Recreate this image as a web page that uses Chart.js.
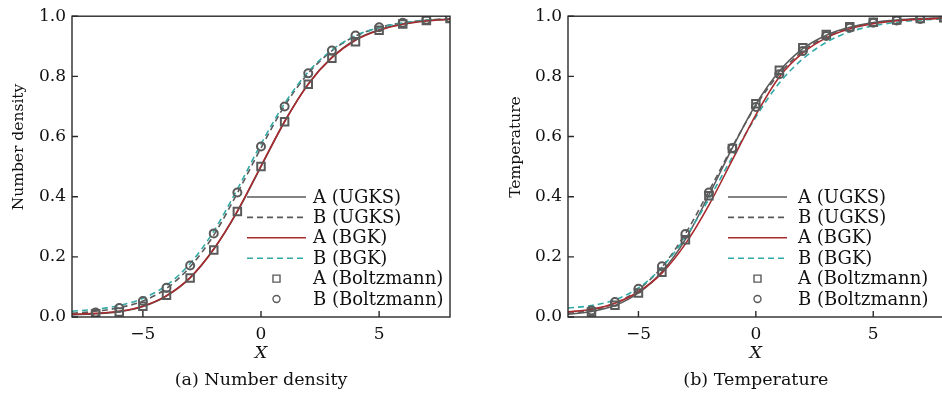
<!DOCTYPE html>
<html>
<head>
<meta charset="utf-8">
<script src="https://cdn.jsdelivr.net/npm/chart.js@4.4.1/dist/chart.umd.min.js"></script>
<style>
  html, body { margin: 0; padding: 0; background: #fff; overflow: hidden; }
  body { width: 942px; height: 395px; position: relative; }
  .panel { position: absolute; top: 0; height: 395px; }
</style>
</head>
<body>
<div class="panel" style="left:0;width:471px"><canvas id="densityChart" width="471" height="395"></canvas></div>
<div class="panel" style="left:471px;width:480px"><canvas id="tempChart" width="480" height="395"></canvas></div>
<script>
// x positions of the curve samples and of the Boltzmann markers
var xLine = [-8, -7, -6, -5, -4, -3, -2, -1, 0, 1, 2, 3, 4, 5, 6, 7, 8];
var xMark = [-7, -6, -5, -4, -3, -2, -1, 0, 1, 2, 3, 4, 5, 6, 7, 8];

var xTicks = [-5, 0, 5];
var yTicks = [0, 0.2, 0.4, 0.6, 0.8, 1.0];

// (a) number density
var densAUgks = [0.007, 0.011, 0.018, 0.035, 0.07, 0.13, 0.225, 0.35, 0.5, 0.65, 0.775, 0.863, 0.922, 0.955, 0.975, 0.985, 0.99];
var densBUgks = [0.012, 0.019, 0.031, 0.053, 0.095, 0.167, 0.272, 0.412, 0.562, 0.702, 0.81, 0.885, 0.934, 0.962, 0.978, 0.987, 0.992];
var densABgk  = [0.009, 0.012, 0.019, 0.036, 0.071, 0.131, 0.226, 0.352, 0.502, 0.65, 0.774, 0.862, 0.92, 0.953, 0.973, 0.984, 0.99];
var densBBgk  = [0.019, 0.026, 0.038, 0.062, 0.105, 0.178, 0.285, 0.425, 0.575, 0.71, 0.815, 0.888, 0.935, 0.962, 0.977, 0.986, 0.99];
var densABoltz = [0.011, 0.017, 0.036, 0.072, 0.13, 0.223, 0.351, 0.5, 0.649, 0.774, 0.86, 0.915, 0.953, 0.974, 0.986, 0.992];
var densBBoltz = [0.015, 0.03, 0.053, 0.097, 0.171, 0.278, 0.414, 0.567, 0.7, 0.81, 0.886, 0.936, 0.963, 0.978, 0.988, 0.993];

// (b) temperature
var tempAUgks = [0.009, 0.018, 0.038, 0.08, 0.15, 0.258, 0.405, 0.562, 0.707, 0.817, 0.892, 0.937, 0.963, 0.979, 0.987, 0.992, 0.995];
var tempBUgks = [0.012, 0.022, 0.046, 0.091, 0.166, 0.277, 0.418, 0.566, 0.702, 0.808, 0.884, 0.932, 0.96, 0.977, 0.986, 0.991, 0.994];
var tempABgk  = [0.017, 0.026, 0.046, 0.084, 0.146, 0.243, 0.372, 0.522, 0.672, 0.798, 0.878, 0.928, 0.958, 0.975, 0.985, 0.99, 0.993];
var tempBBgk  = [0.03, 0.038, 0.057, 0.097, 0.165, 0.265, 0.392, 0.532, 0.665, 0.778, 0.858, 0.913, 0.948, 0.968, 0.98, 0.987, 0.991];
var tempABoltz = [0.017, 0.039, 0.08, 0.149, 0.257, 0.403, 0.56, 0.709, 0.82, 0.895, 0.939, 0.965, 0.98, 0.987, 0.992, 0.995];
var tempBBoltz = [0.022, 0.05, 0.094, 0.169, 0.276, 0.414, 0.562, 0.698, 0.807, 0.884, 0.934, 0.962, 0.978, 0.986, 0.991, 0.994];

var seriesLabels = ["A (UGKS)", "B (UGKS)", "A (BGK)", "B (BGK)", "A (Boltzmann)", "B (Boltzmann)"];

var FONT = "'DejaVu Serif', serif";
var INK = "#111";
var GRAY = "#5a5a5a";
var RED = "#a82a2e";
var TEAL = "#33aaa6";

function pts(xs, ys) {
    return xs.map(function (x, i) { return { x: x, y: ys[i] }; });
}

function buildDatasets(aU, bU, aB, bB, aBz, bBz) {
    var line = function (label, data, color, dash, order) {
        return {
            label: label, data: pts(xLine, data), showLine: true,
            borderColor: color, borderWidth: 1.6, borderDash: dash,
            pointRadius: 0, cubicInterpolationMode: "monotone", order: order
        };
    };
    var mark = function (label, data, style, r) {
        return {
            label: label, data: pts(xMark, data), showLine: false,
            pointStyle: style, pointRadius: r, pointBorderColor: GRAY,
            pointBackgroundColor: "rgba(0,0,0,0)", pointBorderWidth: 2, order: 0
        };
    };
    return [
        line(seriesLabels[0], aU, GRAY, [], 4),
        line(seriesLabels[1], bU, GRAY, [6, 4], 3),
        line(seriesLabels[2], aB, RED, [], 1),
        line(seriesLabels[3], bB, TEAL, [6, 4], 2),
        mark(seriesLabels[4], aBz, "rect", 5.3),
        mark(seriesLabels[5], bBz, "circle", 4)
    ];
}

// frame, inward ticks, titles, caption and the in-plot legend
var decorations = {
    id: "decorations",
    afterDraw: function (chart, args, opts) {
        var ctx = chart.ctx, a = chart.chartArea;
        var xs = chart.scales.x, ys = chart.scales.y;
        ctx.save();
        ctx.strokeStyle = "#2a2a2a";
        ctx.lineWidth = 1.4;
        ctx.strokeRect(a.left, a.top, a.right - a.left, a.bottom - a.top);
        ctx.beginPath();
        xTicks.forEach(function (v) {
            var px = xs.getPixelForValue(v);
            ctx.moveTo(px, a.bottom); ctx.lineTo(px, a.bottom - 6);
        });
        yTicks.forEach(function (v) {
            var py = ys.getPixelForValue(v);
            ctx.moveTo(a.left, py); ctx.lineTo(a.left + 6, py);
        });
        ctx.stroke();

        var cx = (a.left + a.right) / 2;
        ctx.fillStyle = INK;
        ctx.textAlign = "center";
        ctx.textBaseline = "middle";
        ctx.font = "italic 17.5px " + FONT;
        ctx.fillText("X", cx, 353);
        ctx.font = "17.5px " + FONT;
        ctx.fillText(opts.caption, cx, 380);

        ctx.save();
        ctx.translate(opts.yTitleX, 147);
        ctx.rotate(-Math.PI / 2);
        ctx.font = "15.5px " + FONT;
        ctx.fillText(opts.yTitle, 0, 0);
        ctx.restore();

        // legend
        ctx.font = "18px " + FONT;
        ctx.textAlign = "left";
        var x0 = a.left + opts.legendLine, x1 = x0 + 59;
        var tx = a.left + opts.legendText;
        chart.data.datasets.forEach(function (ds, i) {
            var y = 197 + i * 20.4;
            if (ds.showLine) {
                ctx.beginPath();
                ctx.strokeStyle = ds.borderColor;
                ctx.lineWidth = ds.borderWidth;
                ctx.setLineDash(ds.borderDash);
                ctx.moveTo(x0, y); ctx.lineTo(x1, y);
                ctx.stroke();
                ctx.setLineDash([]);
            } else {
                var mx = (x0 + x1) / 2;
                ctx.beginPath();
                ctx.strokeStyle = GRAY;
                ctx.lineWidth = 1.4;
                if (ds.pointStyle === "rect") ctx.rect(mx - 3.5, y - 3.5, 7, 7);
                else ctx.arc(mx, y, 3.5, 0, Math.PI * 2);
                ctx.stroke();
            }
            ctx.fillStyle = INK;
            ctx.fillText(ds.label, tx, y + 1);
        });
        ctx.restore();
    }
};

function makeChart(id, datasets, yWidth, rightPad, extra) {
    return new Chart(id, {
        type: "scatter",
        data: { datasets: datasets },
        options: {
            responsive: false,
            animation: false,
            layout: { padding: { left: 0, right: rightPad, top: 15, bottom: 0 } },
            plugins: {
                legend: { display: false },
                tooltip: { enabled: false },
                decorations: extra
            },
            scales: {
                x: {
                    type: "linear", min: -8, max: 8,
                    grid: { display: false, drawTicks: false },
                    border: { display: false },
                    afterFit: function (s) { s.height = 78; },
                    ticks: {
                        stepSize: 5, includeBounds: false, padding: 7,
                        color: INK, font: { family: FONT, size: 17 },
                        callback: function (v) { return v < 0 ? "\u2212" + Math.abs(v) : String(v); }
                    }
                },
                y: {
                    type: "linear", min: 0, max: 1,
                    grid: { display: false, drawTicks: false },
                    border: { display: false },
                    afterFit: function (s) { s.width = yWidth; },
                    ticks: {
                        stepSize: 0.2, padding: 6,
                        color: INK, font: { family: FONT, size: 17 },
                        callback: function (v) { return v.toFixed(1); }
                    }
                }
            }
        },
        plugins: [decorations]
    });
}

makeChart("densityChart",
    buildDatasets(densAUgks, densBUgks, densABgk, densBBgk, densABoltz, densBBoltz),
    72, 21,
    { caption: "(a) Number density", yTitle: "Number density", yTitleX: 19, legendLine: 175, legendText: 241 });

makeChart("tempChart",
    buildDatasets(tempAUgks, tempBUgks, tempABgk, tempBBgk, tempABoltz, tempBBoltz),
    97, 7,
    { caption: "(b) Temperature", yTitle: "Temperature", yTitleX: 45, legendLine: 160, legendText: 230 });
</script>
</body>
</html>
